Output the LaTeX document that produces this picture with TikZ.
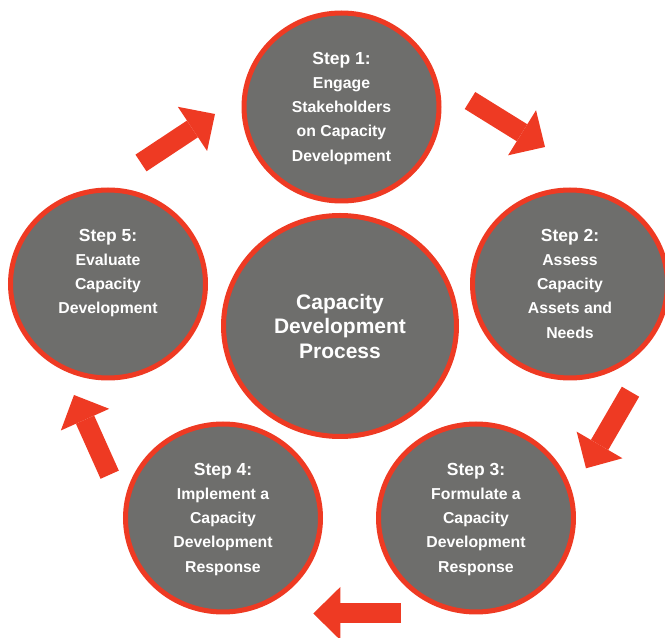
\documentclass[tikz,border=0pt]{standalone}
\usepackage{fontspec}
\setmainfont{Liberation Sans}
\usetikzlibrary{shapes.geometric,arrows.meta,calc}
\definecolor{cdred}{HTML}{EE3A23}
\definecolor{cdgray}{HTML}{6E6E6C}
\newcommand{\stepline}[1]{{\fontsize{17.5}{24.3}\selectfont #1}}
\begin{document}
\begin{tikzpicture}[x=1pt,y=1pt,
  stepcircle/.style={ellipse, draw=cdred, line width=5pt, fill=cdgray,
    minimum width=195pt, minimum height=188pt, inner sep=0pt},
  hubcircle/.style={ellipse, draw=cdred, line width=5pt, fill=cdgray,
    minimum width=233pt, minimum height=221pt, inner sep=0pt,
    text=white, align=center, font=\bfseries\fontsize{21}{24.5}\selectfont},
  steptext/.style={anchor=north, inner sep=0pt, text=white, align=center,
    font=\bfseries\fontsize{15.8}{24.3}\selectfont},
  flow/.style={draw=cdred, line width=20pt,
    -{Triangle[width=53pt,length=27pt,line width=0pt]}}
]
\useasboundingbox (0,0) rectangle (665,638);
\clip (0,0) rectangle (665,638);

% circles
\node[stepcircle] (c1) at (341.5,531) {};
\node[stepcircle] (c2) at (570,354) {};
\node[stepcircle] (c3) at (476,120) {};
\node[stepcircle] (c4) at (223,120) {};
\node[stepcircle] (c5) at (108,354) {};
\node[hubcircle] (hub) at (340,312) {Capacity\\Development\\Process};

% texts
\node[steptext] (t1) at ($(c1.center)+(0,55.4)$) {\stepline{Step 1:}\\Engage\\Stakeholders\\on Capacity\\Development};
\node[steptext] (t2) at ($(c2.center)+(0,55.4)$) {\stepline{Step 2:}\\Assess\\Capacity\\Assets and\\Needs};
\node[steptext] (t3) at ($(c3.center)+(0,55.4)$) {\stepline{Step 3:}\\Formulate a\\Capacity\\Development\\Response};
\node[steptext] (t4) at ($(c4.center)+(0,55.4)$) {\stepline{Step 4:}\\Implement a\\Capacity\\Development\\Response};
\node[steptext] (t5) at ($(c5.center)+(0,55.4)$) {\stepline{Step 5:}\\Evaluate\\Capacity\\Development};

% arrows
\coordinate (a1s) at (141,475);   \coordinate (a1e) at (215,524);
\coordinate (a2s) at (470,537.5); \coordinate (a2e) at (545,491);
\coordinate (a3s) at (630.5,246.3); \coordinate (a3e) at (586,169.7);
\coordinate (a4s) at (401,24.5);  \coordinate (a4e) at (313.3,24.5);
\coordinate (a5s) at (109.7,163.3); \coordinate (a5e) at (74,243);
\draw[flow] (a1s) -- (a1e);
\draw[flow] (a2s) -- (a2e);
\draw[flow] (a3s) -- (a3e);
\draw[flow] (a4s) -- (a4e);
\draw[flow] (a5s) -- (a5e);
\end{tikzpicture}
\end{document}
